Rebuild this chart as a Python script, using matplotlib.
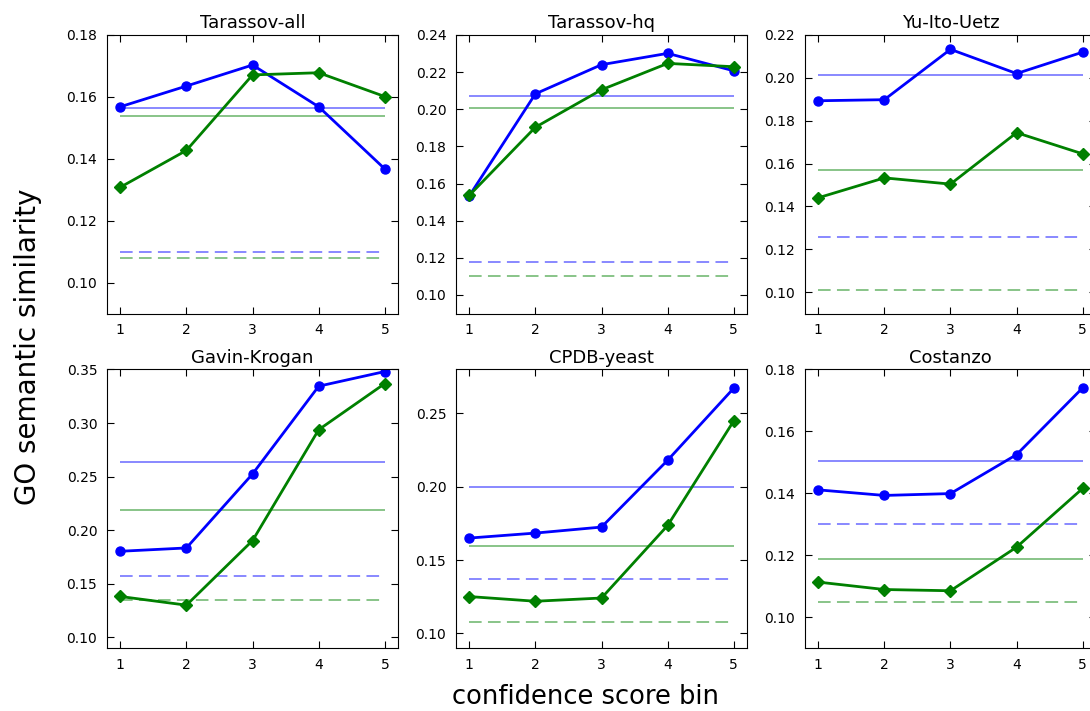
import matplotlib
matplotlib.use('Agg')
from matplotlib import pyplot as plt
from matplotlib.ticker import MultipleLocator, FormatStrFormatter

bins = [1, 2, 3, 4, 5]

titles = ['Tarassov-all', 'Tarassov-hq', 'Yu-Ito-Uetz',
          'Gavin-Krogan', 'CPDB-yeast', 'Costanzo']

# mean similarity per confidence bin
blue_vals = [
    [0.1568, 0.1635, 0.1703, 0.1568, 0.1367],
    [0.1533, 0.2083, 0.2240, 0.2301, 0.2207],
    [0.1893, 0.1898, 0.2133, 0.2020, 0.2120],
    [0.1803, 0.1834, 0.2525, 0.3344, 0.3481],
    [0.1650, 0.1684, 0.1725, 0.2181, 0.2673],
    [0.1411, 0.1393, 0.1399, 0.1525, 0.1741],
]
green_vals = [
    [0.1308, 0.1427, 0.1671, 0.1678, 0.1601],
    [0.1536, 0.1903, 0.2105, 0.2247, 0.2229],
    [0.1440, 0.1533, 0.1504, 0.1744, 0.1645],
    [0.1381, 0.1300, 0.1903, 0.2938, 0.3369],
    [0.1251, 0.1219, 0.1241, 0.1736, 0.2450],
    [0.1113, 0.1089, 0.1085, 0.1226, 0.1416],
]

# overall averages (solid) and random baselines (dashed)
blue_mean = [0.1564, 0.2074, 0.2012, 0.2634, 0.1996, 0.1503]
green_mean = [0.1539, 0.2006, 0.1572, 0.2191, 0.1593, 0.1189]
blue_rand = [0.1100, 0.1180, 0.1258, 0.1572, 0.1371, 0.1300]
green_rand = [0.1079, 0.1101, 0.1009, 0.1344, 0.1080, 0.1050]

ylims = [(0.09, 0.18), (0.09, 0.24), (0.09, 0.22),
         (0.09, 0.35), (0.09, 0.28), (0.09, 0.18)]
ysteps = [0.02, 0.02, 0.02, 0.05, 0.05, 0.02]


def main():
    fig, axes = plt.subplots(2, 3, figsize=(10.9, 7.11), dpi=100)
    fig.subplots_adjust(left=0.0982, right=1.0055, top=0.9508, bottom=0.0886,
                        wspace=0.199, hspace=0.201)

    dashed = (0, (7, 3.5))
    for i, ax in enumerate(axes.flat):
        ax.hlines(blue_mean[i], 1, 5, colors='b', lw=1.3, alpha=0.5)
        ax.hlines(green_mean[i], 1, 5, colors='g', lw=1.3, alpha=0.5)
        ax.hlines(blue_rand[i], 1, 5, colors='b', lw=1.3, alpha=0.5, linestyles=dashed)
        ax.hlines(green_rand[i], 1, 5, colors='g', lw=1.3, alpha=0.5, linestyles=dashed)
        ax.plot(bins, blue_vals[i], color='b', marker='o', ms=6.5, mec='b', lw=2)
        ax.plot(bins, green_vals[i], color='g', marker='D', ms=6.5, mec='g', lw=2)

        ax.set_xlim(0.8, 5.2)
        ax.set_ylim(*ylims[i])
        ax.set_xticks(bins)
        ax.yaxis.set_major_locator(MultipleLocator(ysteps[i]))
        ax.yaxis.set_major_formatter(FormatStrFormatter('%.2f'))
        ax.tick_params(direction='in', top=True, right=True, length=5,
                       labelsize=10, pad=7)
        ax.set_title(titles[i], fontsize=13, pad=5)

    fig.text(0.026, 0.512, 'GO semantic similarity', rotation=90,
             ha='center', va='center', fontsize=20)
    fig.text(0.537, 0.019, 'confidence score bin', ha='center', va='center',
             fontsize=18.5)

    fig.savefig('out.png', dpi=100)


if __name__ == '__main__':
    main()
